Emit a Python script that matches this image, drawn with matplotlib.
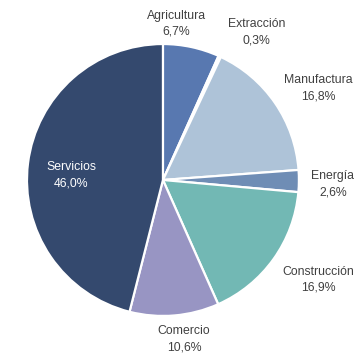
import matplotlib.pyplot as plt
from matplotlib import font_manager

# sector shares of output, %
sectors = ['Agricultura', 'Extracción', 'Manufactura', 'Energía',
           'Construcción', 'Comercio', 'Servicios']
shares = [6.7, 0.3, 16.8, 2.6, 16.9, 10.6, 46.0]
colors = ['#5878B0', '#FFFFFF', '#AEC3D8', '#6F8DB5',
          '#72B8B4', '#9895C3', '#34496E']

# where each label sits (axes data units, pie radius = 1)
label_xy = [(0.10, 1.15), (0.69, 1.085), (1.14, 0.675), (1.25, -0.03),
            (1.14, -0.735), (0.155, -1.17), (-0.675, 0.035)]

names = {f.name for f in font_manager.fontManager.ttflist}
fam = 'Liberation Sans Narrow' if 'Liberation Sans Narrow' in names else 'Liberation Sans'

fig = plt.figure(figsize=(3.55, 3.55), dpi=100)
ax = fig.add_axes([0.076, 0.110, 0.766, 0.766])

ax.pie(shares, colors=colors, startangle=90, counterclock=False,
       wedgeprops=dict(edgecolor='white', linewidth=1.6))
ax.set_xlim(-1, 1)
ax.set_ylim(-1, 1)
ax.set_aspect('equal')
ax.axis('off')

for name, val, (x, y) in zip(sectors, shares, label_xy):
    txt = name + '\n' + ('%.1f' % val).replace('.', ',') + '%'
    col = 'white' if name == 'Servicios' else '#404040'
    ax.text(x, y, txt, ha='center', va='center', fontsize=8.8,
            family=fam, color=col, linespacing=1.45, clip_on=False)

fig.savefig('out.png', dpi=100)
